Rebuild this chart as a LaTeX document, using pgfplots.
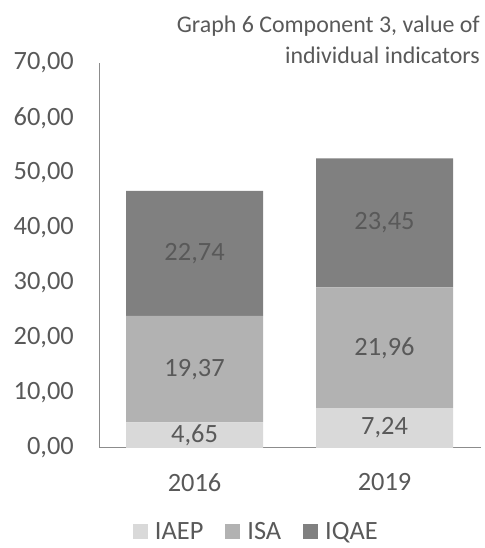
\documentclass[border=0pt]{standalone}
\usepackage{pgfplots}
\pgfplotsset{compat=1.18}
\usepackage{pgfplotstable}
\usepackage{fontspec}
\setmainfont{Carlito}
\definecolor{txt}{HTML}{595959}
\definecolor{cA}{HTML}{D9D9D9}
\definecolor{cB}{HTML}{B2B2B2}
\definecolor{cC}{HTML}{808080}
\definecolor{axl}{HTML}{8C8C8C}

\pgfplotstableread{
x y
0 4.65
1 7.24
}\iaep
\pgfplotstableread{
x y
0 19.37
1 21.96
}\isa
\pgfplotstableread{
x y
0 22.74
1 23.45
}\iqae

\begin{document}
\begin{tikzpicture}[x=1bp,y=1bp]
\useasboundingbox (0,0) rectangle (485,548);
\begin{axis}[
  at={(99bp,100bp)}, anchor=south west,
  scale only axis, width=382bp, height=385bp,
  xmin=-0.503, xmax=1.508, ymin=0, ymax=70,
  ybar stacked, bar width=137bp,
  axis x line=bottom, axis y line=left,
  axis line style={draw=axl, line width=1bp, -},
  major tick length=0pt,
  xtick={0,1}, xticklabels={2016,2019},
  ytick={0,10,...,70},
  /pgf/number format/.cd, fixed, fixed zerofill, precision=2, use comma, assume math mode=true,
  /pgfplots/.cd,
  tick label style={font=\fontsize{26.5}{30}\selectfont, text=txt, inner sep=0pt},
  yticklabel style={anchor=east, xshift=-25bp},
  xticklabel style={anchor=north, yshift=-25bp},
  point meta=explicit,
  nodes near coords,
  every node near coord/.append style={font=\fontsize{26.5}{30}\selectfont, text=txt, anchor=center, inner sep=0pt},
  legend columns=3,
  legend style={draw=none, fill=none, at={(0.412,-0.218)}, anchor=center,
     font=\fontsize{26.5}{30}\selectfont, text=txt,
     /tikz/every even column/.append style={column sep=20bp},
     /tikz/every odd column/.append style={column sep=5bp}},
  legend image code/.code={\fill[#1] (0bp,-7.5bp) rectangle (15bp,7.5bp);},
]
\addplot[fill=cA, draw=none] table[x=x, y=y, meta=y]{\iaep};
\addplot[fill=cB, draw=none] table[x=x, y=y, meta=y]{\isa};
\addplot[fill=cC, draw=none] table[x=x, y=y, meta=y]{\iqae};
\legend{IAEP, ISA, IQAE}
\end{axis}
\node[anchor=base east, inner sep=0pt, text=txt, font=\fontsize{24}{28}\selectfont] at (480bp,515bp) {Graph 6 Component 3, value of};
\node[anchor=base east, inner sep=0pt, text=txt, font=\fontsize{24}{28}\selectfont] at (480bp,484bp) {individual indicators};
\end{tikzpicture}
\end{document}
